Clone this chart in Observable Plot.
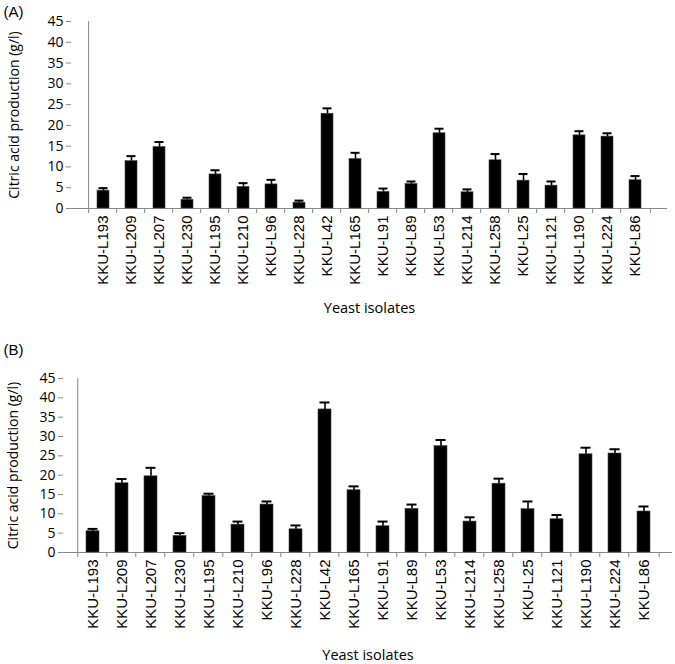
<!DOCTYPE html>
<html><head><meta charset="utf-8">
<script src="https://cdn.jsdelivr.net/npm/d3@7"></script>
<script src="https://cdn.jsdelivr.net/npm/@observablehq/plot@0.6"></script>
<style>body{margin:0;background:#fff} #chart svg{display:block;overflow:visible}</style>
</head><body><div id="chart"></div>
<script>
const categories = ["KKU-L193","KKU-L209","KKU-L207","KKU-L230","KKU-L195","KKU-L210","KKU-L96","KKU-L228","KKU-L42","KKU-L165","KKU-L91","KKU-L89","KKU-L53","KKU-L214","KKU-L258","KKU-L25","KKU-L121","KKU-L190","KKU-L224","KKU-L86"];
const valuesA = [4.3,11.4,14.8,2.1,8.2,5.2,5.8,1.4,22.8,11.9,4.0,5.9,18.1,3.9,11.6,6.7,5.5,17.6,17.3,6.8];
const errorsA = [0.6,1.2,1.2,0.5,1.0,0.9,1.1,0.5,1.3,1.5,0.8,0.6,1.1,0.7,1.5,1.6,1.0,1.0,0.8,1.0];
const valuesB = [5.5,17.9,19.7,4.3,14.6,7.2,12.4,6.0,37.0,16.1,6.8,11.3,27.5,8.0,17.8,11.2,8.6,25.4,25.6,10.6];
const errorsB = [0.6,1.1,2.2,0.7,0.6,0.8,0.8,1.0,1.8,1.0,1.2,1.1,1.6,1.1,1.3,2.0,1.1,1.7,1.1,1.3];
const yTicks = [0,5,10,15,20,25,30,35,40,45];

function panel(values, errors, tag, o) {
  const data = categories.map((name, i) => ({name, value: values[i], err: errors[i]}));
  const bw = (675 - o.marginLeft - o.marginRight) / categories.length;
  return Plot.plot({
    width: 675, height: o.height,
    marginTop: o.marginTop, marginBottom: o.marginBottom,
    marginLeft: o.marginLeft, marginRight: o.marginRight,
    style: {fontFamily: "'Liberation Sans', Arial, sans-serif", background: "#fff"},
    x: {domain: categories, padding: 0.56, label: null, axis: null},
    y: {domain: [0, 45], label: null, axis: null},
    marks: [
      Plot.ruleY([0], {stroke: "#888", strokeWidth: 1}),
      Plot.ruleX([categories[0]], {x: d => d, dx: -bw / 2, y1: 0, y2: 45, stroke: "#888"}),
      Plot.ruleX(categories, {x: d => d, dx: -bw / 2, y1: 0, y2: 0, insetBottom: -5, stroke: "#888"}),
      Plot.ruleX([categories[categories.length - 1]], {x: d => d, dx: bw / 2, y1: 0, y2: 0, insetBottom: -5, stroke: "#888"}),
      Plot.axisY({ticks: yTicks, tickSize: 5, stroke: "#888", tickPadding: 3, tickFormat: d3.format("d"), fontSize: 14, fontFamily: "'Open Sans', sans-serif", fill: "#000", label: null}),
      Plot.axisX({tickRotate: -90, tickSize: 0, tickPadding: o.xPad, fontSize: 15, fill: "#000", label: null}),
      Plot.barY(data, {x: "name", y: "value", fill: "#000", stroke: "#444", strokeWidth: 0.6}),
      Plot.ruleX(data, {x: "name", y1: "value", y2: d => d.value + d.err, stroke: "#000", strokeWidth: 1.6}),
      Plot.tickY(data, {x: "name", y: d => d.value + d.err, stroke: "#000", strokeWidth: 2, insetLeft: 1.5, insetRight: 1.5}),
      Plot.text(["Citric acid production (g/l)"], {frameAnchor: "left", textAnchor: "middle", lineAnchor: "middle", rotate: -90, dx: o.yLabelDx, fontSize: 14, fontFamily: "'Open Sans', sans-serif", fill: "#000"}),
      Plot.text(["Yeast isolates"], {frameAnchor: "bottom", textAnchor: "middle", lineAnchor: "middle", dy: o.xLabelDy, fontSize: 14.5, fontFamily: "'Open Sans', sans-serif", fill: "#000"}),
      Plot.text([tag], {frameAnchor: "top-left", textAnchor: "start", lineAnchor: "middle", dx: o.tagDx, dy: o.tagDy, fontSize: 15, fill: "#000"})
    ]
  });
}

const chart = document.getElementById("chart");
chart.append(panel(valuesA, errorsA, "(A)", {height: 325, marginTop: 21, marginBottom: 117, marginLeft: 71, marginRight: 8, xPad: 7, yLabelDx: -57, xLabelDy: 100, tagDx: -68, tagDy: -9}));
chart.append(panel(valuesB, errorsB, "(B)", {height: 339, marginTop: 53, marginBottom: 112, marginLeft: 63, marginRight: 3, xPad: 7, yLabelDx: -50, xLabelDy: 103, tagDx: -60, tagDy: -28}));
</script></body></html>
